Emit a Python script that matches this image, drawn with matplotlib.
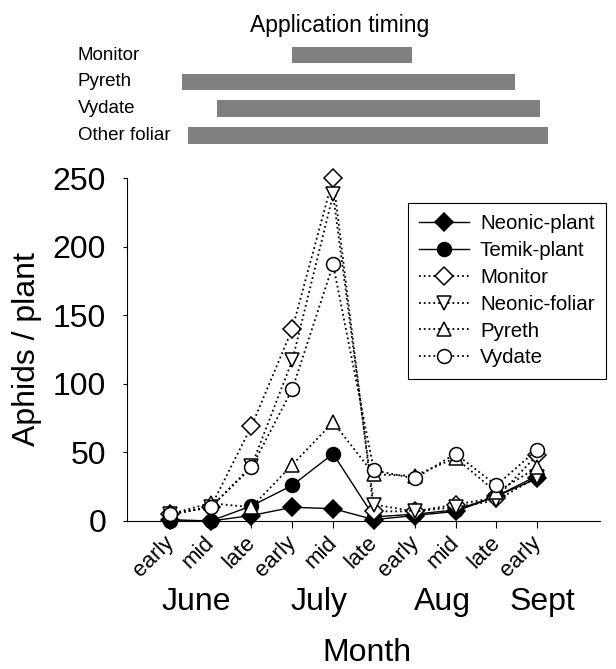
import numpy as np
import matplotlib
matplotlib.use("Agg")
import matplotlib.pyplot as plt
import matplotlib.transforms as mtransforms

plt.rcParams['font.family'] = ['Liberation Sans', 'DejaVu Sans']

# periods: early June .. early Sept
periods = ["early", "mid", "late", "early", "mid", "late", "early", "mid", "late", "early"]
months = ["June", "July", "Aug", "Sept"]
month_pos = [0.64, 3.65, 6.67, 9.12]

neonic_plant = [1, 0, 4, 10, 9, 1, 4, 7, 18, 31]
temik_plant = [0, 0, 11, 26, 49, 3, 5, 8, 18, 33]
monitor = [5, 10, 69, 140, 250, 7, 7, 12, 17, 48]
neonic_foliar = [5, 10, 40, 117, 238, 12, 7, 10, 15, 32]
pyreth = [5, 13, 10, 41, 72, 34, 33, 46, 21, 39]
vydate = [5, 10, 39, 96, 187, 37, 31, 49, 26, 52]

# application timing (start / end, in period units)
app_names = ["Monitor", "Pyreth", "Vydate", "Other foliar"]
app_start = [3.0, 0.29, 1.15, 0.44]
app_end = [5.93, 8.46, 9.07, 9.26]

W, H = 616, 669
fig = plt.figure(figsize=(W / 100, H / 100), dpi=100)

left, right = 127 / W, 600 / W
ax = fig.add_axes([left, 1 - 521 / H, right - left, (521 - 178) / H])
x = np.arange(len(periods))

series = [
    ("Neonic-plant", neonic_plant, "D", "black", "-", 9),
    ("Temik-plant", temik_plant, "o", "black", "-", 10),
    ("Monitor", monitor, "D", "white", ":", 9),
    ("Neonic-foliar", neonic_foliar, "v", "white", ":", 10.5),
    ("Pyreth", pyreth, "^", "white", ":", 10.5),
    ("Vydate", vydate, "o", "white", ":", 10),
]
for name, vals, mk, fc, ls, ms in series:
    ax.plot(x, vals, linestyle=ls, color="black", lw=1.0 if ls == "-" else 1.3,
            marker=mk, markersize=ms, markerfacecolor=fc, markeredgecolor="black",
            markeredgewidth=1.1, label=name, clip_on=False)

ax.set_xlim(-1.05, 10.54)
ax.set_ylim(0, 250)
ax.set_yticks([0, 50, 100, 150, 200, 250])
ax.spines['top'].set_visible(False)
ax.spines['right'].set_visible(False)
ax.tick_params(axis='y', direction='out', length=3, pad=12, labelsize=23)
ax.tick_params(axis='x', direction='out', length=5, pad=3, labelsize=16)
ax.set_xticks(x)
ax.set_xticklabels(periods, rotation=45, ha='right', va='top')
offset = mtransforms.ScaledTranslation(8 / 100, 0, fig.dpi_scale_trans)
for lab in ax.get_xticklabels():
    lab.set_transform(lab.get_transform() + offset)

trans = mtransforms.blended_transform_factory(ax.transData, ax.transAxes)
for m, p in zip(months, month_pos):
    ax.text(p, (521 - 610) / 343, m, transform=trans, ha='center', va='baseline', fontsize=23)

ax.set_ylabel("Aphids / plant", fontsize=23)
ax.yaxis.set_label_coords(-0.18, 0.5)
ax.set_xlabel("Month", fontsize=23, va='baseline')
ax.xaxis.set_label_coords(0.507, (521 - 661) / 343)

leg = ax.legend(loc='upper left', bbox_to_anchor=(408 / W, 1 - 203 / H),
                bbox_transform=fig.transFigure, fontsize=14.8, frameon=True,
                fancybox=False, framealpha=1, edgecolor='black', borderpad=0.55,
                labelspacing=0.38, handlelength=2.4, handletextpad=0.55,
                borderaxespad=0)
leg.get_frame().set_linewidth(0.8)

# application timing bars
ax_top = fig.add_axes([left, 1 - 148.9 / H, right - left, 107.3 / H])
ypos = np.arange(len(app_names))
ax_top.barh(ypos, np.array(app_end) - np.array(app_start), left=app_start,
            height=0.62, color='#808080')
ax_top.set_xlim(ax.get_xlim())
ax_top.set_ylim(3.5, -0.5)
ax_top.axis('off')
ttrans = mtransforms.blended_transform_factory(fig.transFigure, ax_top.transData)
for i, n in enumerate(app_names):
    ax_top.text(78 / W, i, n, transform=ttrans, ha='left', va='center', fontsize=13.5)
fig.text(340 / W, 1 - 32 / H, "Application timing", ha='center', va='baseline', fontsize=16.5)

fig.savefig("out.png", dpi=100)
